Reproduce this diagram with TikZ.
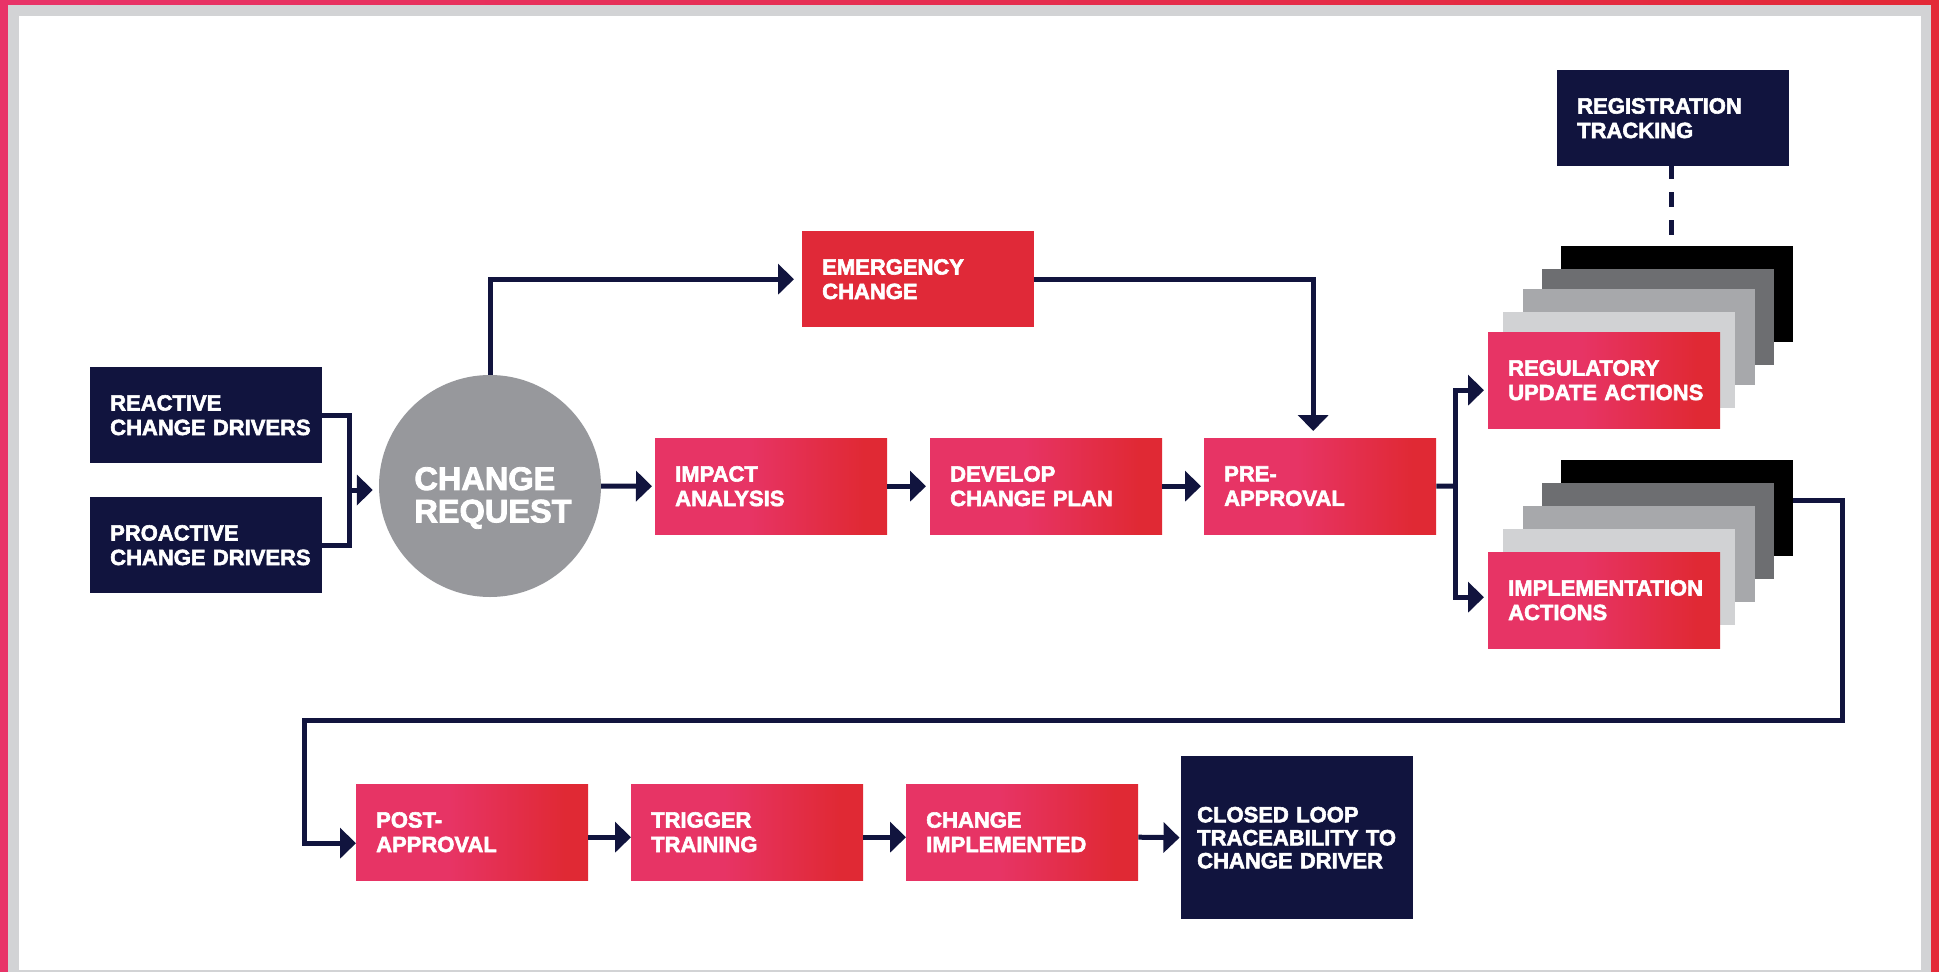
\documentclass[tikz,border=0pt]{standalone}
\usepackage{fontspec}
\setmainfont{Liberation Sans}[BoldFeatures={FakeBold=2.6}]
\usetikzlibrary{arrows.meta,calc}
\definecolor{navy}{RGB}{17,20,62}
\definecolor{pinkc}{RGB}{231,52,101}
\definecolor{redc}{RGB}{224,41,52}
\definecolor{emred}{RGB}{224,41,56}
\definecolor{framepink}{RGB}{232,51,104}
\definecolor{framered}{RGB}{227,41,55}
\definecolor{framegray}{RGB}{210,211,213}
\definecolor{circgray}{RGB}{151,152,156}
\definecolor{lgray}{RGB}{209,210,212}
\definecolor{mgray}{RGB}{167,168,171}
\definecolor{dgray}{RGB}{109,110,113}
\pgfdeclarehorizontalshading{redgrad}{100bp}{color(0bp)=(pinkc); color(25bp)=(pinkc); color(45bp)=(pinkc); color(70bp)=(redc); color(100bp)=(redc)}
\pgfdeclarehorizontalshading{framegrad}{100bp}{color(0bp)=(framepink); color(25bp)=(framepink); color(75bp)=(framered); color(100bp)=(framered)}
\tikzset{
  boxtext/.style={text=white, font=\bfseries\fontsize{22}{24.5}\selectfont, align=left, text width=192pt, inner xsep=20pt, inner ysep=0pt, minimum height=96pt, anchor=north west, execute at begin node={\hyphenpenalty=10000 }},
  navybox/.style={boxtext, fill=navy},
  gradbox/.style={boxtext, shade, shading=redgrad},
  solidred/.style={boxtext, fill=emred},
  layer/.style={minimum width=232pt, minimum height=96pt, inner sep=0pt, anchor=north west},
  conn/.style={draw=navy, line width=5pt},
  arr/.style={conn, -{Triangle[length=16pt,width=30pt]}},
  dashconn/.style={draw=navy, line width=5pt, dash pattern=on 15pt off 13pt, dash phase=2pt},
}
\begin{document}
\begin{tikzpicture}[x=1pt,y=-1pt]
\useasboundingbox (0,0) rectangle (1939,972);
% frame
\shade[shading=framegrad] (0,0) rectangle (1939,972);
\fill[framegray] (8,5) rectangle (1931,972);
\fill[white] (19,16) rectangle (1921,970);

% left drivers
\node[navybox] (reactive) at (90,367) {REACTIVE\\\mbox{CHANGE DRIVERS}};
\node[navybox] (proactive) at (90,497) {PROACTIVE\\\mbox{CHANGE DRIVERS}};
\node[circle, fill=circgray, minimum size=222pt, inner sep=0pt] (circ) at (490,486) {};
\node[text=white, font=\bfseries\fontsize{32.5}{32.4}\selectfont, align=left, inner sep=0pt] (crlabel) at (493,498) {CHANGE\\REQUEST};

% middle row
\node[solidred] (emerg) at (802,231) {EMERGENCY\\CHANGE};
\node[gradbox] (impact) at (655,438) {IMPACT\\ANALYSIS};
\node[gradbox] (develop) at (930,438) {DEVELOP\\\mbox{CHANGE PLAN}};
\node[gradbox] (pre) at (1204,438) {PRE-\\APPROVAL};

% registration
\node[navybox] (reg) at (1557,70) {REGISTRATION\\TRACKING};

% upper stack
\node[layer, fill=black] (rblack) at (1561,246) {};
\node[layer, fill=dgray] (rdg) at (1542,269) {};
\node[layer, fill=mgray] (rmg) at (1523,289) {};
\node[layer, fill=lgray] (rlg) at (1503,312) {};
\node[gradbox] (regred) at (1488,332) {REGULATORY\\\mbox{UPDATE ACTIONS}};

% lower stack
\node[layer, fill=black] (iblack) at (1561,460) {};
\node[layer, fill=dgray] (idg) at (1542,483) {};
\node[layer, fill=mgray] (img) at (1523,506) {};
\node[layer, fill=lgray] (ilg) at (1503,529) {};
\node[gradbox] (implred) at (1488,552) {\mbox{IMPLEMENTATION}\\ACTIONS};

% bottom row
\node[gradbox] (post) at (356,784) {POST-\\APPROVAL};
\node[gradbox] (trigger) at (631,784) {TRIGGER\\TRAINING};
\node[gradbox] (chimpl) at (906,784) {CHANGE\\\mbox{IMPLEMENTED}};
\node[navybox, minimum height=163pt, text width=200pt, inner xsep=16pt, font=\bfseries\fontsize{22}{23}\selectfont] (closed) at (1181,756) {\mbox{CLOSED LOOP}\\\mbox{TRACEABILITY TO}\\\mbox{CHANGE DRIVER}};

% connectors
\coordinate (j1) at (349,490);
\draw[conn] (reactive.east) -| (j1) |- (proactive.east);
\draw[arr, shorten >=6pt] (j1) -- (j1 -| circ.west);
\draw[arr, shorten >=3pt] (circ.east) -- (impact.west);
\draw[arr, shorten >=4pt] (impact.east) -- (develop.west);
\draw[arr, shorten >=3pt] (develop.east) -- (pre.west);
\draw[arr, shorten >=8pt] (circ.north) |- (emerg.west);
\draw[arr, shorten >=7pt] (emerg.east) -| ($(pre.north)+(-7,0)$);

\coordinate (jp) at (1455,486);
\draw[conn] (pre.east) -- (jp);
\draw[arr, shorten >=4pt] (jp) |- ($(regred.west)+(0,10)$);
\draw[arr, shorten >=4pt] (jp) |- ($(implred.west)+(0,-3)$);

\draw[dashconn] ($(reg.south)+(-2,0)$) -- ($(rblack.north)+(-6,-9)$);

\coordinate (lr) at (1842,720);
\coordinate (ll) at (304,720);
\draw[arr] ($(iblack.east)+(0,-8)$) -| (lr) -- (ll) |- ($(post.west)+(0,11)$);

\draw[arr] ($(post.east)+(0,5)$) -- ($(trigger.west)+(0,5)$);
\draw[arr] ($(trigger.east)+(0,5)$) -- ($(chimpl.west)+(0,5)$);
\draw[arr, shorten >=1.5pt] ($(chimpl.east)+(0,5)$) -- (closed.west);
\end{tikzpicture}
\end{document}
